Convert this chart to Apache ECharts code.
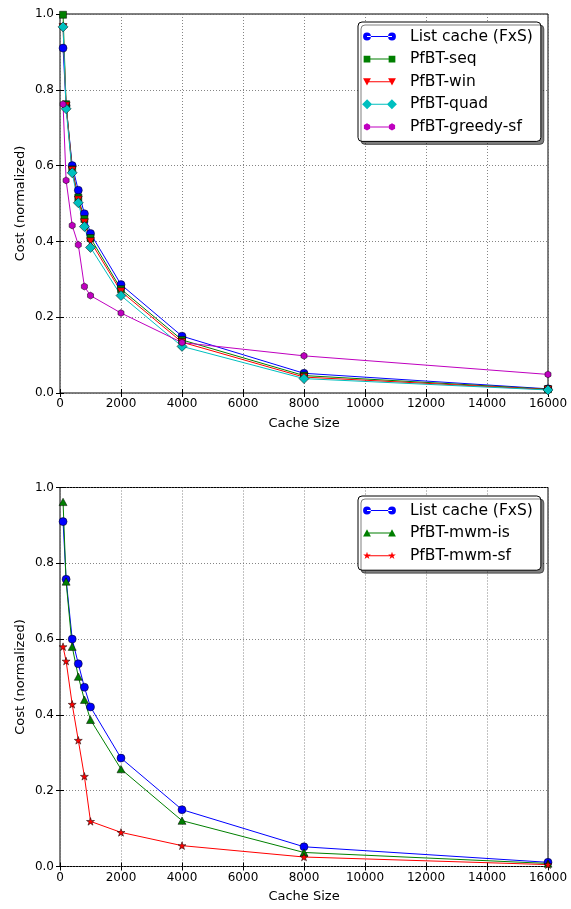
<!DOCTYPE html>
<html>
<head>
<meta charset="utf-8">
<script src="https://cdn.jsdelivr.net/npm/echarts@6/dist/echarts.min.js"></script>
<style>
  html, body { margin: 0; padding: 0; background: #fff; }
  #chart { width: 571px; height: 909px; }
</style>
</head>
<body>
<div id="chart"></div>
<script>
// Cache sizes on the x axis (shared by both panels)
const cacheSizes = [100, 200, 400, 600, 800, 1000, 2000, 4000, 8000, 16000];

// Upper panel
const listCache    = [0.910, 0.758, 0.600, 0.535, 0.473, 0.421, 0.286, 0.150, 0.052, 0.011];
const pfbtSeq      = [0.998, 0.762, 0.590, 0.516, 0.459, 0.409, 0.274, 0.140, 0.046, 0.010];
const pfbtWin      = [0.965, 0.758, 0.588, 0.510, 0.450, 0.400, 0.268, 0.134, 0.042, 0.009];
const pfbtQuad     = [0.966, 0.750, 0.581, 0.502, 0.439, 0.384, 0.257, 0.123, 0.038, 0.008];
const pfbtGreedySf = [0.762, 0.561, 0.442, 0.391, 0.281, 0.257, 0.211, 0.133, 0.098, 0.049];

// Lower panel
const pfbtMwmIs    = [0.962, 0.752, 0.580, 0.501, 0.440, 0.387, 0.257, 0.121, 0.037, 0.008];
const pfbtMwmSf    = [0.580, 0.542, 0.428, 0.333, 0.238, 0.119, 0.090, 0.055, 0.025, 0.005];

// Axis ticks
const xTicks = { min: 0, max: 16000, interval: 2000 };
const yTicks = { min: 0, max: 1, interval: 0.2 };

const FONT = 'DejaVu Sans';

// Marker outlines as SVG path fragments centred on (cx, cy), scaled by s
function markerPath(shape, cx, cy, s) {
  s = s || 1;
  const f = n => n.toFixed(2);
  switch (shape) {
    case 'circle': {
      const r = 3.5 * s;
      return `M${f(cx - r)},${f(cy)} A${f(r)},${f(r)} 0 1,0 ${f(cx + r)},${f(cy)} A${f(r)},${f(r)} 0 1,0 ${f(cx - r)},${f(cy)} Z`;
    }
    case 'square': {
      const h = 3 * s;
      return `M${f(cx - h)},${f(cy - h)} L${f(cx + h)},${f(cy - h)} L${f(cx + h)},${f(cy + h)} L${f(cx - h)},${f(cy + h)} Z`;
    }
    case 'tridown': {
      const h = 3.5 * s;
      return `M${f(cx - h)},${f(cy - h * 0.85)} L${f(cx + h)},${f(cy - h * 0.85)} L${f(cx)},${f(cy + h)} Z`;
    }
    case 'triup': {
      const h = 3.5 * s;
      return `M${f(cx)},${f(cy - h)} L${f(cx + h)},${f(cy + h * 0.85)} L${f(cx - h)},${f(cy + h * 0.85)} Z`;
    }
    case 'diamond': {
      const h = 4.5 * s;
      return `M${f(cx)},${f(cy - h)} L${f(cx + h)},${f(cy)} L${f(cx)},${f(cy + h)} L${f(cx - h)},${f(cy)} Z`;
    }
    case 'hexagon': {
      const r = 3.2 * s;
      let d = '';
      for (let k = 0; k < 6; k++) {
        const a = -Math.PI / 2 + k * Math.PI / 3;
        d += (k ? 'L' : 'M') + f(cx + r * Math.cos(a)) + ',' + f(cy + r * Math.sin(a)) + ' ';
      }
      return d + 'Z';
    }
    case 'star': {
      const R = 3.6 * s, r = 1.4 * s;
      let d = '';
      for (let k = 0; k < 10; k++) {
        const a = -Math.PI / 2 + k * Math.PI / 5;
        const rr = k % 2 ? r : R;
        d += (k ? 'L' : 'M') + f(cx + rr * Math.cos(a)) + ',' + f(cy + rr * Math.sin(a)) + ' ';
      }
      return d + 'Z';
    }
  }
  return '';
}

// Legend icon: a short line with a marker at each end
const ICON_W = 35, ICON_H = 10;
function legendIcon(shape) {
  const cy = ICON_H / 2, x0 = 5, x1 = ICON_W - 5;
  const anchors = `M0,0 L0.001,0 L0,0.001 Z M${ICON_W},${ICON_H} L${ICON_W - 0.001},${ICON_H} L${ICON_W},${ICON_H - 0.001} Z `;
  const line = `M${x0},${cy - 0.5} L${x1},${cy - 0.5} L${x1},${cy + 0.5} L${x0},${cy + 0.5} Z `;
  return 'path://' + anchors + line + markerPath(shape, x0, cy, 1.12) + ' ' + markerPath(shape, x1, cy, 1.12);
}

// Single marker as a series symbol
function symbolOf(shape) {
  return 'path://' + markerPath(shape, 5, 5, 1);
}

const COLORS = {
  blue: '#0000ff', green: '#007f00', red: '#ff0000', cyan: '#00bfbf', magenta: '#bf00bf'
};

function pairs(values) {
  return cacheSizes.map((x, i) => [x, values[i]]);
}

function lineSeries(name, values, color, shape, size, axisIdx) {
  return {
    name,
    type: 'line',
    xAxisIndex: axisIdx,
    yAxisIndex: axisIdx,
    data: pairs(values),
    symbol: symbolOf(shape),
    symbolSize: size,
    symbolKeepAspect: true,
    showAllSymbol: true,
    clip: false,
    animation: false,
    lineStyle: { color, width: 1 },
    itemStyle: { color, borderColor: '#000', borderWidth: 0.5 },
    emphasis: { disabled: true }
  };
}

const grids = [
  { left: 60, top: 14, width: 488, height: 379 },
  { left: 60, top: 487.5, width: 488, height: 379 }
];

function mainX(gi) {
  return {
    type: 'value', gridIndex: gi, ...xTicks,
    name: 'Cache Size', nameLocation: 'middle', nameGap: 24,
    nameTextStyle: { fontFamily: FONT, fontSize: 13, color: '#000' },
    axisLine: { show: false },
    axisTick: { show: true, inside: true, length: 4, lineStyle: { color: '#000' } },
    axisLabel: { fontFamily: FONT, fontSize: 12, color: '#000', margin: 5, formatter: v => String(v) },
    splitLine: { show: true, lineStyle: { color: '#666', width: 0.8, type: [1, 2] } }
  };
}
function topX(gi) {
  return {
    type: 'value', gridIndex: gi, position: 'top', ...xTicks,
    axisLine: { show: false },
    axisTick: { show: true, inside: true, length: 4, lineStyle: { color: '#000' } },
    axisLabel: { show: false },
    splitLine: { show: false }
  };
}
function mainY(gi) {
  return {
    type: 'value', gridIndex: gi, ...yTicks,
    name: 'Cost (normalized)', nameLocation: 'middle', nameGap: 33,
    nameMoveOverlap: false,
    nameTextStyle: { fontFamily: FONT, fontSize: 13, color: '#000' },
    axisLine: { show: false },
    axisTick: { show: true, inside: true, length: 4, lineStyle: { color: '#000' } },
    axisLabel: { fontFamily: FONT, fontSize: 12, color: '#000', margin: 6, formatter: v => v.toFixed(1) },
    splitLine: { show: true, lineStyle: { color: '#666', width: 0.8, type: [1, 2] } }
  };
}
function rightY(gi) {
  return {
    type: 'value', gridIndex: gi, position: 'right', ...yTicks,
    axisLine: { show: false },
    axisTick: { show: true, inside: true, length: 4, lineStyle: { color: '#000' } },
    axisLabel: { show: false },
    splitLine: { show: false }
  };
}

function legendBox(top, entries) {
  return {
    left: 358, top,
    orient: 'vertical',
    itemWidth: ICON_W, itemHeight: ICON_H,
    itemGap: 4.6,
    padding: [5.5, 8, 5.5, 4],
    backgroundColor: '#fff',
    borderColor: '#000',
    borderWidth: 1,
    borderRadius: 4,
    shadowColor: 'rgba(0,0,0,0.5)',
    shadowOffsetX: 3, shadowOffsetY: 3, shadowBlur: 0,
    selectedMode: false,
    itemStyle: { borderWidth: 0 },
    textStyle: { fontFamily: FONT, fontSize: 15.5, color: '#000', lineHeight: 18, padding: [0, 0, 0, 8] },
    data: entries.map(([name, shape]) => ({ name, icon: legendIcon(shape) }))
  };
}

const option = {
  animation: false,
  backgroundColor: '#fff',
  grid: grids.map(g => ({ ...g, show: true, borderColor: '#000', borderWidth: 1, backgroundColor: 'transparent' })),
  xAxis: [mainX(0), mainX(1), topX(0), topX(1)],
  yAxis: [mainY(0), mainY(1), rightY(0), rightY(1)],
  legend: [
    legendBox(22, [
      ['List cache (FxS)', 'circle'],
      ['PfBT-seq', 'square'],
      ['PfBT-win', 'tridown'],
      ['PfBT-quad', 'diamond'],
      ['PfBT-greedy-sf', 'hexagon']
    ]),
    legendBox(496, [
      ['List cache (FxS)', 'circle'],
      ['PfBT-mwm-is', 'triup'],
      ['PfBT-mwm-sf', 'star']
    ])
  ],
  series: [
    lineSeries('List cache (FxS)', listCache, COLORS.blue, 'circle', 8, 0),
    lineSeries('PfBT-seq', pfbtSeq, COLORS.green, 'square', 7, 0),
    lineSeries('PfBT-win', pfbtWin, COLORS.red, 'tridown', 8, 0),
    lineSeries('PfBT-quad', pfbtQuad, COLORS.cyan, 'diamond', 10, 0),
    lineSeries('PfBT-greedy-sf', pfbtGreedySf, COLORS.magenta, 'hexagon', 7, 0),
    lineSeries('List cache (FxS)', listCache, COLORS.blue, 'circle', 8, 1),
    lineSeries('PfBT-mwm-is', pfbtMwmIs, COLORS.green, 'triup', 8, 1),
    lineSeries('PfBT-mwm-sf', pfbtMwmSf, COLORS.red, 'star', 8, 1)
  ]
};

const chart = echarts.init(document.getElementById('chart'), null, { renderer: 'canvas' });
chart.setOption(option);
</script>
</body>
</html>
